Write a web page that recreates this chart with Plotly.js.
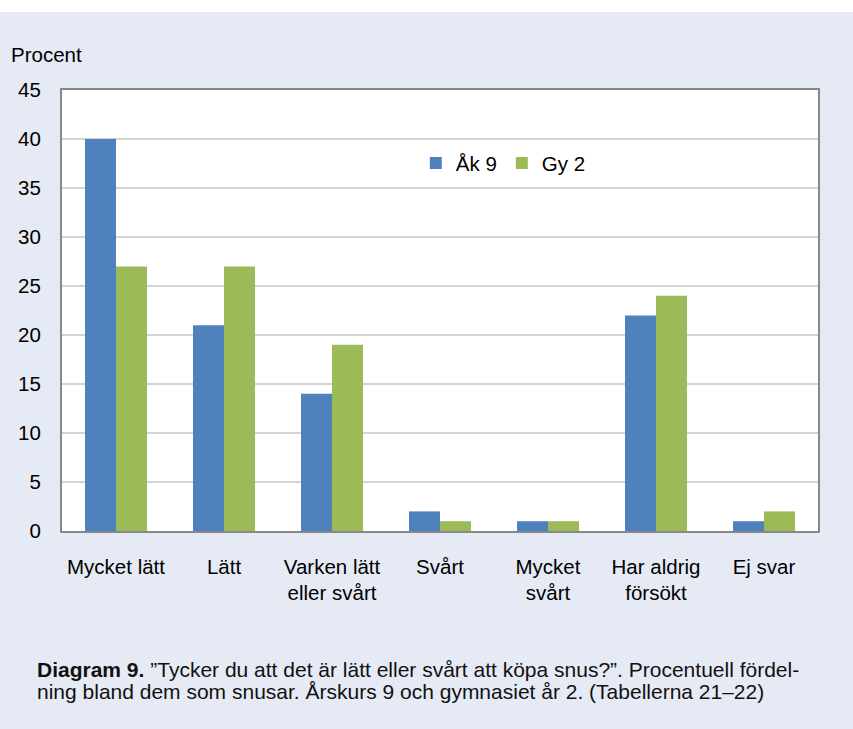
<!DOCTYPE html>
<html>
<head>
<meta charset="utf-8">
<script src="https://cdn.plot.ly/plotly-3.0.1.min.js"></script>
<style>
  html, body { margin: 0; padding: 0; background: #ffffff; }
  #chart { position: absolute; left: 0; top: 12px; width: 853px; height: 717px; }
</style>
</head>
<body>
<div id="chart"></div>
<script>
const categories = ["Mycket lätt", "Lätt", "Varken lätt<br>eller svårt", "Svårt", "Mycket<br>svårt", "Har aldrig<br>försökt", "Ej svar"];
const ak9 = [40, 21, 14, 2, 1, 22, 1];
const gy2 = [27, 27, 19, 1, 1, 24, 2];
const seriesNames = ["Åk 9", "Gy 2"];
const yTicks = [0, 5, 10, 15, 20, 25, 30, 35, 40, 45];
const yTitle = "Procent";
const captionLine1 = "<b>Diagram 9.</b> ”Tycker du att det är lätt eller svårt att köpa snus?”. Procentuell fördel-";
const captionLine2 = "ning bland dem som snusar. Årskurs 9 och gymnasiet år 2. (Tabellerna 21–22)";

const FONT = "Arial, 'Liberation Sans', sans-serif";
const BG = "#E6EAF5";
const FS = 20.5;

const traces = [
  { type: "bar", name: seriesNames[0], x: categories, y: ak9, marker: { color: "#4F81BD" }, hoverinfo: "none" },
  { type: "bar", name: seriesNames[1], x: categories, y: gy2, marker: { color: "#9BBB59" }, hoverinfo: "none" }
];

const layout = {
  width: 853,
  height: 717,
  margin: { l: 62, r: 35, t: 78, b: 198, pad: 0 },
  paper_bgcolor: BG,
  plot_bgcolor: "#ffffff",
  font: { family: FONT, size: FS, color: "#000000" },
  barmode: "group",
  bargap: 0.426,
  bargroupgap: 0,
  showlegend: true,
  legend: {
    orientation: "h",
    x: 0.468, xanchor: "left",
    y: 0.834, yanchor: "middle",
    bgcolor: "rgba(0,0,0,0)",
    font: { family: FONT, size: FS, color: "#000000" },
    itemwidth: 30,
    traceorder: "normal"
  },
  xaxis: {
    type: "category",
    showgrid: false,
    showline: true,
    linecolor: "#888888",
    linewidth: 2,
    mirror: true,
    ticks: "",
    ticklabelstandoff: 16,
    tickfont: { family: FONT, size: FS, color: "#000000" },
    zeroline: false
  },
  yaxis: {
    range: [0, 45],
    tickvals: yTicks,
    ticktext: yTicks.map(String),
    showgrid: true,
    gridcolor: "#D4D4D4",
    gridwidth: 2,
    showline: true,
    linecolor: "#888888",
    linewidth: 2,
    mirror: true,
    ticks: "",
    ticklabelstandoff: 15,
    tickfont: { family: FONT, size: FS, color: "#000000" },
    zeroline: false
  },
  annotations: [
    { text: yTitle, xref: "paper", yref: "paper", x: -0.0701, y: 1.0816, xanchor: "left", yanchor: "middle", showarrow: false, font: { family: FONT, size: FS, color: "#000000" } },
    { text: captionLine1, xref: "paper", yref: "paper", x: -0.0357, y: -0.3130, xanchor: "left", yanchor: "middle", showarrow: false, font: { family: FONT, size: 21, color: "#111111" } },
    { text: captionLine2, xref: "paper", yref: "paper", x: -0.0357, y: -0.3640, xanchor: "left", yanchor: "middle", showarrow: false, font: { family: FONT, size: 21, color: "#111111" } }
  ]
};

Plotly.newPlot("chart", traces, layout, { displayModeBar: false, staticPlot: true });
</script>
</body>
</html>
